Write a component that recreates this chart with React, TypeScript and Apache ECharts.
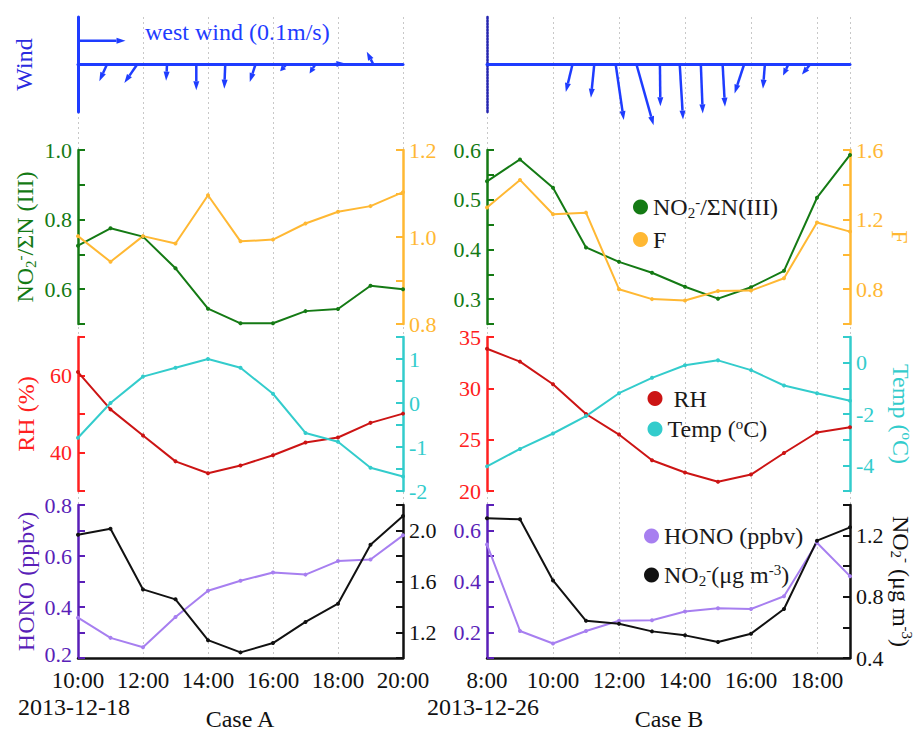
import React, { useEffect, useRef } from 'react';
import * as echarts from 'echarts';

// ---------- data ----------
const hoursA = [10, 11, 12, 13, 14, 15, 16, 17, 18, 19, 20];
const hoursB = [8, 9, 10, 11, 12, 13, 14, 15, 16, 17, 18, 19];

const ratioA = [0.725, 0.775, 0.751, 0.66, 0.544, 0.502, 0.502, 0.537, 0.543, 0.61, 0.6];
const fA = [1.002, 0.943, 1.002, 0.985, 1.096, 0.99, 0.994, 1.031, 1.058, 1.071, 1.103];
const ratioB = [0.537, 0.581, 0.524, 0.404, 0.375, 0.353, 0.325, 0.301, 0.324, 0.357, 0.504, 0.59];
const fB = [1.269, 1.428, 1.231, 1.24, 0.8, 0.743, 0.735, 0.79, 0.792, 0.863, 1.183, 1.131];

const rhA = [60.9, 51.2, 44.4, 37.7, 34.6, 36.6, 39.3, 42.6, 43.9, 47.7, 50.1];
const tempA = [-0.79, 0.0, 0.6, 0.8, 1.0, 0.8, 0.21, -0.68, -0.88, -1.47, -1.67];
const rhB = [33.85, 32.6, 30.4, 27.5, 25.5, 23.0, 21.8, 20.9, 21.6, 23.7, 25.7, 26.2];
const tempB = [-4.04, -3.36, -2.76, -2.08, -1.19, -0.59, -0.1, 0.09, -0.29, -0.89, -1.19, -1.48];

const honoA = [0.358, 0.279, 0.242, 0.361, 0.464, 0.503, 0.535, 0.527, 0.58, 0.586, 0.681];
const no2A = [1.966, 2.013, 1.538, 1.46, 1.14, 1.044, 1.117, 1.283, 1.426, 1.888, 2.114];
const honoB = [0.545, 0.206, 0.157, 0.206, 0.246, 0.248, 0.282, 0.295, 0.292, 0.342, 0.552, 0.421];
const no2B = [1.313, 1.307, 0.907, 0.643, 0.624, 0.574, 0.548, 0.504, 0.559, 0.72, 1.167, 1.254];

// wind sticks: time (h), u (east, m/s), v (north, m/s)
const windTimeA = [10.89, 11.82, 12.74, 13.64, 14.53, 15.46, 16.41, 17.3, 17.76, 19.09];
const windUA = [-0.016, -0.027, -0.002, 0, -0.002, -0.012, -0.013, -0.012, 0.032, -0.014];
const windVA = [-0.035, -0.039, -0.034, -0.054, -0.051, -0.037, -0.014, -0.019, 0.002, 0.027];
const windTimeB = [10.59, 11.25, 11.9, 12.53, 13.24, 13.84, 14.48, 15.14, 15.79, 16.42, 17.13, 17.79];
const windUB = [-0.014, -0.007, 0.017, 0.036, 0.001, 0.007, 0.004, 0.005, -0.02, -0.004, -0.011, -0.017];
const windVB = [-0.058, -0.07, -0.117, -0.128, -0.088, -0.116, -0.103, -0.089, -0.061, -0.051, -0.023, -0.021];
// reference arrow: west wind 0.1 m/s
const refArrow = [10, 0.05, 0.1, 0];

// ---------- styling ----------
const FONT = "'Liberation Serif', 'Times New Roman', serif";
const BLUE = '#1e3cff';
const GREEN = '#147a14';
const ORANGE = '#ffb833';
const RED_AX = '#ff2020';
const RED = '#cc1414';
const CYAN = '#33cccc';
const PURPLE_AX = '#5a1fb8';
const PURPLE = '#a77ff0';
const BLACK = '#111111';
const TICK_FS = 22;

const colA = { left: 78, width: 325 };
const colB = { left: 487, width: 363 };
const rows = [
  { top: 17, height: 95 },
  { top: 150, height: 174 },
  { top: 337, height: 154 },
  { top: 505, height: 153 },
];

const rich = (color: string, size = 24) => ({
  a: { color, fontSize: size, fontFamily: FONT, lineHeight: 26 },
  b: { color, fontSize: 15, fontFamily: FONT, lineHeight: 12, verticalAlign: 'bottom' },
  c: { color, fontSize: 15, fontFamily: FONT, lineHeight: 12, verticalAlign: 'top' },
});

const evenTenth = (v: number) => {
  const r = Math.round(v * 10);
  return r % 2 === 0 ? (r / 10).toFixed(1) : '';
};
const every4Tenth = (v: number) => {
  const r = Math.round(v * 10);
  return r % 4 === 0 ? (r / 10).toFixed(1) : '';
};
const tenthsFrom12 = (v: number) => {
  const r = Math.round(v * 10);
  return (r - 12) % 4 === 0 ? (r / 10).toFixed(1) : '';
};
const tenthStep = (v: number) => {
  const r = Math.round(v * 10);
  return Math.abs(v * 10 - r) < 1e-6 ? (r / 10).toFixed(1) : '';
};
// HONO (case A): bottom label nudged up so it clears the time labels
const honoAFmt = (v: number) => {
  const r = Math.round(v * 10);
  if (r === 2) return '{m|0.2}';
  return r % 2 === 0 ? (r / 10).toFixed(1) : '';
};

function yAx(gridIndex: number, position: 'left' | 'right', min: number, max: number, interval: number,
  color: string, formatter: any, extra: any = {}) {
  return {
    type: 'value', gridIndex, position, min, max, interval,
    axisLine: { show: true, onZero: false, lineStyle: { color, width: 2.5 } },
    axisTick: { show: true, inside: true, length: 7, lineStyle: { color, width: 2 } },
    axisLabel: {
      color, fontSize: TICK_FS, fontFamily: FONT, margin: 6, lineHeight: 17, formatter,
      rich: { m: { color, fontSize: TICK_FS, fontFamily: FONT, lineHeight: 17, padding: [0, 0, 8, 0] } },
    },
    splitLine: { show: false },
    ...extra,
  };
}

function lineS(name: string, xi: number, yi: number, hours: number[], vals: number[], color: string) {
  return {
    type: 'line', name, xAxisIndex: xi, yAxisIndex: yi,
    data: hours.map((h, i) => [h, vals[i]]),
    symbol: 'circle', symbolSize: 4, showSymbol: true,
    lineStyle: { color, width: 2 }, itemStyle: { color },
    emphasis: { disabled: true },
  };
}

function windSeries(idx: number, data: number[][]) {
  return {
    type: 'custom', xAxisIndex: idx, yAxisIndex: idx, clip: false,
    data,
    renderItem: (_p: any, api: any) => {
      const t = api.value(0), y0 = api.value(1), u = api.value(2), v = api.value(3);
      const p = api.coord([t, y0]);
      const k = api.size([1, 1])[1];
      const dx = u * k, dy = -v * k;
      const len = Math.hypot(dx, dy) || 1;
      const ux = dx / len, uy = dy / len;
      const h = Math.min(9, len * 0.6), w = 3;
      const tx = p[0] + dx, ty = p[1] + dy;
      const bx = tx - ux * h, by = ty - uy * h;
      return {
        type: 'group',
        children: [
          { type: 'line', shape: { x1: p[0], y1: p[1], x2: bx, y2: by }, style: { stroke: BLUE, lineWidth: 2.5 } },
          { type: 'polygon', shape: { points: [[tx, ty], [bx - uy * w, by + ux * w], [bx + uy * w, by - ux * w]] }, style: { fill: BLUE } },
        ],
      };
    },
  };
}

function legend(name: string, left: number, top: number, formatter: string, color = '#1a1a1a') {
  return {
    show: true, orient: 'vertical', left, top, padding: 0,
    data: [name], itemWidth: 15, itemHeight: 15, icon: 'circle',
    selectedMode: false,
    formatter: () => formatter,
    textStyle: { fontSize: 24, fontFamily: FONT, color, rich: rich(color) },
  };
}

function buildOption() {
  const grids = [] as any[];
  [0, 1, 2, 3].forEach((r) => {
    grids.push({ left: colA.left, width: colA.width, top: rows[r].top, height: rows[r].height });
    grids.push({ left: colB.left, width: colB.width, top: rows[r].top, height: rows[r].height });
  });
  // background grids for vertical dotted gridlines
  grids.push({ left: colA.left, width: colA.width, top: 17, height: 641 });
  grids.push({ left: colB.left, width: colB.width, top: 17, height: 641 });

  const hourFmt = (v: number) => (Math.round(v) % 2 === 0 ? `${Math.round(v)}:00` : '');
  const xAxes = grids.map((_g, i) => {
    const isA = i % 2 === 0;
    const base = { type: 'value', gridIndex: i, min: isA ? 10 : 8, max: isA ? 20 : 19, interval: 2 };
    if (i === 0 || i === 1) {
      return {
        ...base, show: true,
        axisLine: { show: true, onZero: true, lineStyle: { color: BLUE, width: 3 } },
        axisTick: { show: false }, axisLabel: { show: false }, splitLine: { show: false },
      };
    }
    if (i === 6 || i === 7) {
      return {
        ...base, show: true, position: 'bottom',
        axisLine: { show: true, onZero: false, lineStyle: { color: BLACK, width: 2.5 } },
        axisTick: { show: false },
        axisLabel: { color: BLACK, fontSize: 23, fontFamily: FONT, margin: 14, lineHeight: 17, formatter: hourFmt },
        splitLine: { show: false },
      };
    }
    if (i >= 8) {
      return {
        ...base, show: true,
        axisLine: { show: false }, axisTick: { show: false }, axisLabel: { show: false },
        splitLine: { show: true, lineStyle: { color: '#c8c8c8', width: 1, type: [2, 3] } },
      };
    }
    return { ...base, show: false };
  });

  const nameLeft = (name: string, color: string) => ({
    name, nameLocation: 'middle', nameGap: 40,
    nameTextStyle: { color, fontSize: 24, fontFamily: FONT, rich: rich(color) },
  });
  const nameRight = (name: string, color: string) => ({
    name, nameLocation: 'middle', nameGap: 38, nameRotate: -90,
    nameTextStyle: { color, fontSize: 24, fontFamily: FONT, rich: rich(color) },
  });

  const yAxes = [
    {
      type: 'value', gridIndex: 0, min: -0.1, max: 0.1, position: 'left',
      axisLine: { show: true, onZero: false, lineStyle: { color: BLUE, width: 3 } },
      axisTick: { show: false }, axisLabel: { show: false }, splitLine: { show: false },
      name: 'Wind', nameLocation: 'middle', nameGap: 42,
      nameTextStyle: { color: '#2a2ae0', fontSize: 24, fontFamily: FONT },
    },
    {
      type: 'value', gridIndex: 1, min: -0.1, max: 0.1, position: 'left',
      axisLine: { show: true, onZero: false, lineStyle: { color: '#2424b0', width: 2.5, type: [2, 1] } },
      axisTick: { show: false }, axisLabel: { show: false }, splitLine: { show: false },
    },
    // row 2
    yAx(2, 'left', 0.5, 1.0, 0.1, GREEN, evenTenth, nameLeft('{a|NO}{b|2}{c|-}{a|/ΣN (III)}', GREEN)),
    yAx(2, 'right', 0.8, 1.2, 0.1, ORANGE, evenTenth),
    yAx(3, 'left', 0.25, 0.6, 0.05, GREEN, tenthStep),
    yAx(3, 'right', 0.6, 1.6, 0.2, ORANGE, every4Tenth, nameRight('F', ORANGE)),
    // row 3
    yAx(4, 'left', 30, 70, 10, RED_AX, (v: number) => (Math.round(v) % 20 === 0 ? String(Math.round(v)) : ''), nameLeft('RH (%)', RED_AX)),
    yAx(4, 'right', -2, 1.5, 0.5, CYAN, (v: number) => (Math.abs(v - Math.round(v)) < 1e-6 ? String(Math.round(v)) : '')),
    yAx(5, 'left', 20, 35, 5, RED_AX, (v: number) => String(Math.round(v))),
    yAx(5, 'right', -5, 1, 1, CYAN, (v: number) => (Math.round(v) % 2 === 0 ? String(Math.round(v)) : ''),
      nameRight('{a|Temp (}{c|o}{a|C)}', CYAN)),
    // row 4
    yAx(6, 'left', 0.2, 0.8, 0.1, PURPLE_AX, honoAFmt, nameLeft('HONO (ppbv)', PURPLE_AX)),
    yAx(6, 'right', 1.0, 2.2, 0.2, BLACK, tenthsFrom12),
    yAx(7, 'left', 0.1, 0.7, 0.1, PURPLE_AX, evenTenth),
    yAx(7, 'right', 0.4, 1.4, 0.2, BLACK, every4Tenth,
      nameRight('{a|NO}{b|2}{c|-}{a| (μg m}{c|-3}{a|)}', BLACK)),
    // backgrounds
    { type: 'value', gridIndex: 8, show: false, min: 0, max: 1 },
    { type: 'value', gridIndex: 9, show: false, min: 0, max: 1 },
  ];

  const windDataA = [refArrow, ...windTimeA.map((t, i) => [t, 0, windUA[i], windVA[i]])];
  const windDataB = windTimeB.map((t, i) => [t, 0, windUB[i], windVB[i]]);

  const series = [
    windSeries(0, windDataA),
    windSeries(1, windDataB),
    lineS('ratio', 2, 2, hoursA, ratioA, GREEN),
    lineS('F', 2, 3, hoursA, fA, ORANGE),
    lineS('ratio', 3, 4, hoursB, ratioB, GREEN),
    lineS('F', 3, 5, hoursB, fB, ORANGE),
    lineS('RH', 4, 6, hoursA, rhA, RED),
    lineS('Temp', 4, 7, hoursA, tempA, CYAN),
    lineS('RH', 5, 8, hoursB, rhB, RED),
    lineS('Temp', 5, 9, hoursB, tempB, CYAN),
    lineS('HONO', 6, 10, hoursA, honoA, PURPLE),
    lineS('NO2', 6, 11, hoursA, no2A, BLACK),
    lineS('HONO', 7, 12, hoursB, honoB, PURPLE),
    lineS('NO2', 7, 13, hoursB, no2B, BLACK),
  ];

  const legends = [
    legend('ratio', 633, 194, '{a|NO}{b|2}{c|-}{a|/ΣN(III)}'),
    legend('F', 633, 227.5, '{a|F}'),
    legend('RH', 647.5, 386.5, '{a| RH}'),
    legend('Temp', 647.5, 416, '{a|Temp (}{c|o}{a|C)}'),
    legend('HONO', 644, 524, '{a|HONO (ppbv)}'),
    legend('NO2', 644, 562, '{a|NO}{b|2}{c|-}{a|(μg m}{c|-3}{a|)}'),
  ];

  const textStyle = (text: string, x: number, y: number, align: string, color = BLACK, size = 24) => ({
    type: 'text', x, y,
    style: { text, fill: color, fontSize: size, fontFamily: FONT, align, verticalAlign: 'middle' },
  });

  return {
    animation: false,
    backgroundColor: '#ffffff',
    textStyle: { fontFamily: FONT },
    grid: grids,
    xAxis: xAxes,
    yAxis: yAxes,
    legend: legends,
    series,
    graphic: [
      textStyle('west wind (0.1m/s)', 145, 32, 'left', BLUE, 24),
      textStyle('2013-12-18', 18, 707, 'left', BLACK, 24),
      textStyle('Case A', 240, 719, 'center', BLACK, 24),
      textStyle('2013-12-26', 427, 707, 'left', BLACK, 24),
      textStyle('Case B', 669, 719, 'center', BLACK, 24),
    ],
  };
}

export default function App() {
  const ref = useRef<HTMLDivElement>(null);
  useEffect(() => {
    if (!ref.current) return;
    const chart = echarts.init(ref.current, undefined, { renderer: 'svg' });
    chart.setOption(buildOption() as any);
    return () => chart.dispose();
  }, []);
  return (
    <div
      ref={ref}
      style={{ position: 'absolute', left: 0, top: 0, width: 917, height: 734, background: '#fff' }}
    />
  );
}
